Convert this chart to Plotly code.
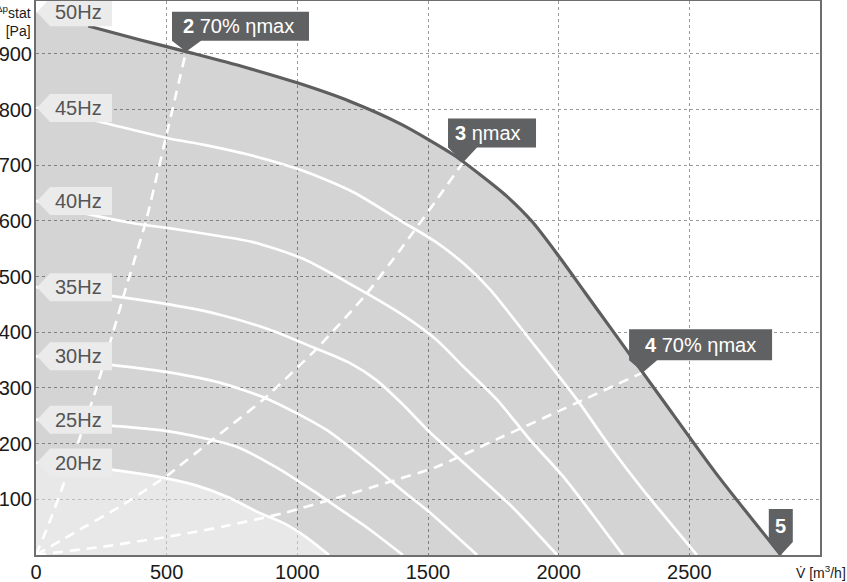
import plotly.graph_objects as go

# ---- data (flow m3/h, static pressure Pa) ----
flow_50 = [0, 200, 400, 600, 800, 1000, 1200, 1400, 1600, 1700, 1800, 1900, 2000, 2100, 2200, 2400, 2600, 2850]
dp_50 = [975, 950, 925, 901, 876, 848, 815, 773, 718, 683, 645, 598, 537, 472, 407, 277, 148, 0]

flow_45 = [0, 191, 509, 639, 830, 1022, 1213, 1404, 1531, 1640, 1737, 1890, 2070, 2196, 2323, 2529]
dp_45 = [803, 784, 748, 737, 717, 690, 652, 598, 562, 522, 477, 387, 279, 195, 117, 0]

flow_40 = [0, 191, 383, 509, 700, 830, 1022, 1220, 1400, 1531, 1634, 1764, 1890, 2017, 2147, 2246]
dp_40 = [636, 613, 595, 587, 573, 562, 532, 482, 432, 387, 339, 279, 207, 141, 62, 0]

flow_35 = [0, 295, 509, 700, 892, 1060, 1200, 1300, 1400, 1508, 1650, 1825, 1994]
dp_35 = [481, 465, 450, 432, 405, 373, 345, 315, 272, 220, 160, 85, 0]

flow_30 = [0, 295, 509, 700, 892, 1110, 1274, 1404, 1508, 1688]
dp_30 = [357, 341, 328, 310, 279, 225, 166, 115, 76, 0]

flow_25 = [0, 295, 509, 765, 925, 1061, 1170, 1256, 1404]
dp_25 = [243, 232, 222, 195, 156, 115, 80, 53, 0]

flow_20 = [0, 295, 450, 612, 740, 849, 957, 1040, 1121]
dp_20 = [166, 153, 142, 125, 103, 77, 55, 30, 0]

freq_labels = ["50Hz", "45Hz", "40Hz", "35Hz", "30Hz", "25Hz", "20Hz"]

# system (efficiency) curves
sys2_flow = [0, 50, 103, 165, 230, 295, 340, 421, 497, 574]
sys2_dp = [0, 57, 124, 207, 298, 400, 473, 600, 750, 904]
sys3_flow = [0, 165, 318, 497, 662, 869, 1071, 1263, 1400, 1530, 1634]
sys3_dp = [0, 45, 86, 141, 202, 279, 369, 468, 552, 636, 705]
sys4_flow = [0, 256, 509, 716, 945, 1148, 1351, 1531, 1764, 2017, 2323]
sys4_dp = [0, 15, 33, 51, 75, 102, 131, 158, 208, 262, 328]

point_labels = ["<b>2</b> 70% ηmax", "<b>3</b> ηmax", "<b>4</b> 70% ηmax", "<b>5</b>"]

x_ticks = [0, 500, 1000, 1500, 2000, 2500]
y_ticks = [100, 200, 300, 400, 500, 600, 700, 800, 900]

FONT = "Liberation Sans, Arial, sans-serif"
DARK = "#606163"
SMOOTH = 0.7

fig = go.Figure()

# fills
fig.add_trace(go.Scatter(x=flow_50, y=dp_50, mode="lines", fill="tozeroy",
                         fillcolor="rgba(0,0,0,0.17)", line=dict(width=0, shape="spline", smoothing=SMOOTH),
                         hoverinfo="skip", showlegend=False))
fig.add_trace(go.Scatter(x=flow_20, y=dp_20, mode="lines", fill="tozeroy",
                         fillcolor="rgba(255,255,255,0.48)", line=dict(width=0, shape="spline", smoothing=SMOOTH),
                         hoverinfo="skip", showlegend=False))

curves = [(flow_45, dp_45), (flow_40, dp_40), (flow_35, dp_35), (flow_30, dp_30),
          (flow_25, dp_25), (flow_20, dp_20)]
for fx, fy in curves:
    fig.add_trace(go.Scatter(x=fx, y=fy, mode="lines",
                             line=dict(color="white", width=2.7, shape="spline", smoothing=SMOOTH),
                             hoverinfo="skip", showlegend=False))

for sx, sy in [(sys2_flow, sys2_dp), (sys3_flow, sys3_dp), (sys4_flow, sys4_dp)]:
    fig.add_trace(go.Scatter(x=sx, y=sy, mode="lines",
                             line=dict(color="white", width=2.6, dash="10px,7px", shape="spline", smoothing=0.5),
                             hoverinfo="skip", showlegend=False))

fig.add_trace(go.Scatter(x=flow_50[1:], y=dp_50[1:], mode="lines",
                         line=dict(color="#5e5e5e", width=3.2, shape="spline", smoothing=SMOOTH),
                         hoverinfo="skip", showlegend=False))

shapes = []
annotations = []

# frequency labels (pointing left)
all_curves = [(flow_50, dp_50)] + curves
for lab, (fx, fy) in zip(freq_labels, all_curves):
    shapes.append(dict(type="path", xref="x", yref="y", xsizemode="pixel", ysizemode="pixel",
                       xanchor=fx[0], yanchor=fy[0],
                       path="M 1,0 L 14,14 L 76,14 L 76,-14 L 14,-14 Z",
                       fillcolor="#ebebeb", line=dict(width=0), layer="above"))
    annotations.append(dict(x=fx[0], y=fy[0], xref="x", yref="y", text=lab, showarrow=False,
                            xanchor="center", yanchor="middle", xshift=42, yshift=0,
                            font=dict(family=FONT, size=20, color="#555555")))

# operating point markers
pts = [(sys2_flow[-1], sys2_dp[-1]), (sys3_flow[-1], sys3_dp[-1]),
       (sys4_flow[-1], sys4_dp[-1]), (flow_50[-1], dp_50[-1])]
paths = ["M -14,40 L 123,40 L 123,11 L 15,11 L 0,0 L -14,11 Z",
         "M -15,44 L 73,44 L 73,15 L 14,15 L 0,0 L -15,15 Z",
         "M -14,43 L 129,43 L 129,12 L 14,12 L 0,0 L -14,12 Z",
         "M -12,46 L 12,46 L 12,13 L 0,0 L -12,13 Z"]
txt_shift = [(52, 25.5), (25, 29.5), (57, 27.5), (0, 29)]
for lab, (px, py), pth, (dx, dy) in zip(point_labels, pts, paths, txt_shift):
    shapes.append(dict(type="path", xref="x", yref="y", xsizemode="pixel", ysizemode="pixel",
                       xanchor=px, yanchor=py, path=pth, fillcolor=DARK,
                       line=dict(width=0), layer="above"))
    annotations.append(dict(x=px, y=py, xref="x", yref="y", text=lab, showarrow=False,
                            xanchor="center", yanchor="middle", xshift=dx, yshift=dy,
                            font=dict(family=FONT, size=20, color="white")))

# axis titles
annotations.append(dict(x=0, y=1, xref="paper", yref="paper", xanchor="right", yanchor="top",
                        xshift=-3, yshift=0, align="right", showarrow=False,
                        text="<sup>Δp</sup>stat<br>[Pa]",
                        font=dict(family=FONT, size=14, color="#1a1a1a")))
annotations.append(dict(x=1, y=0, xref="paper", yref="paper", xanchor="left", yanchor="middle",
                        xshift=-26, yshift=-17, showarrow=False,
                        text="V\u0307 [m<sup>3</sup>/h]",
                        font=dict(family=FONT, size=14, color="#1a1a1a")))

axis_common = dict(showgrid=True, gridcolor="#9a9a9a", griddash="3px,3px", gridwidth=1,
                   showline=True, linecolor="#6e6e6e", linewidth=2, mirror=True,
                   zeroline=False, ticks="", automargin=False,
                   tickfont=dict(family=FONT, size=20, color="#1a1a1a"))

fig.update_layout(
    width=847, height=582,
    margin=dict(l=36, r=27, t=1, b=27, autoexpand=False),
    plot_bgcolor="white", paper_bgcolor="white",
    xaxis=dict(range=[0, 3000], tickvals=x_ticks, ticktext=[str(v) for v in x_ticks],
               ticklabelstandoff=-2, **axis_common),
    yaxis=dict(range=[0, 995], tickvals=y_ticks, ticktext=[str(v) for v in y_ticks],
               ticklabelstandoff=-2, **axis_common),
    shapes=shapes, annotations=annotations, showlegend=False,
)

fig.write_html("out.html", config={"displayModeBar": False},
               post_script="document.body.style.margin='0';document.body.style.overflow='hidden';")
